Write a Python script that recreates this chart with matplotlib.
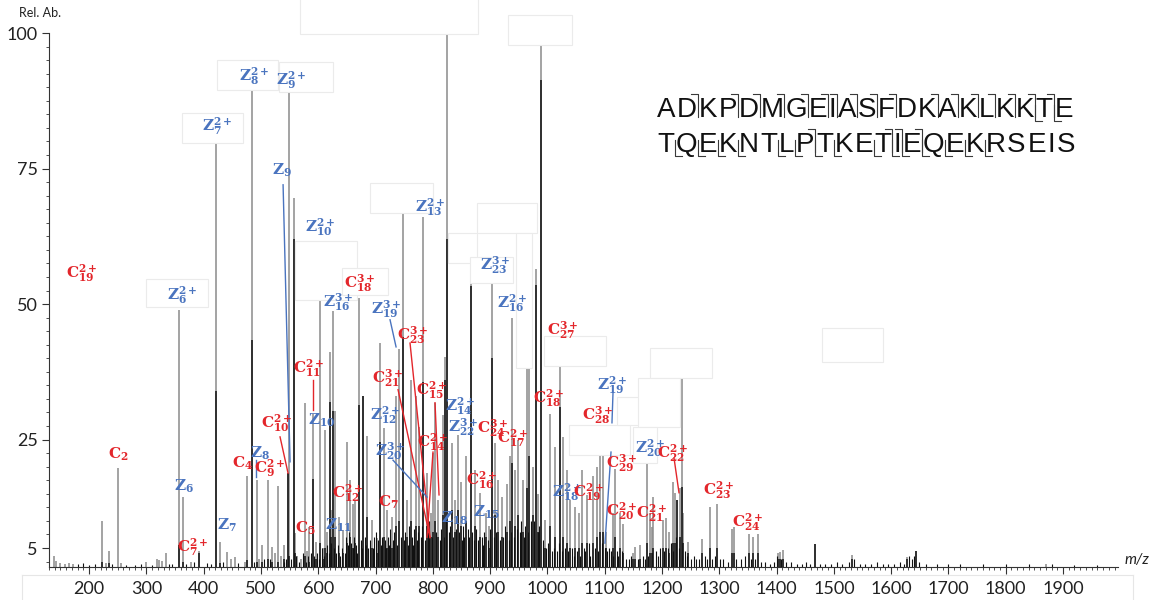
import matplotlib
matplotlib.use("Agg")
import matplotlib.pyplot as plt
from matplotlib.patches import Rectangle
from matplotlib.lines import Line2D
from matplotlib.ticker import MultipleLocator, FixedLocator
from matplotlib.font_manager import FontProperties

plt.rcParams['mathtext.fontset'] = 'dejavuserif'
plt.rcParams['font.family'] = ['Lato', 'DejaVu Sans']

# ---------------- data: main peaks (m/z, total intensity, dark-core intensity) ----------------
peak_mz = [138, 143, 150, 158, 165, 172, 223, 229, 234, 251, 256, 300, 318, 322, 327, 334,
           356.5, 364.6, 377, 391, 421, 428.6, 441, 447, 455, 472, 475, 484, 492.6, 497, 502,
           511.8, 520, 525, 529, 535, 541, 546.7, 549, 557.5, 559.5, 563, 570, 577, 580, 584,
           590.8, 596, 603.5, 608, 612.5, 616, 620.3, 623, 626.4, 629.5, 636, 643.8, 651, 655.5,
           661.3, 664, 671.5, 678.7, 684.5, 693, 702, 707.5, 714.5, 719.5, 728, 735.5, 741.4,
           747.4, 754.4, 761.3, 770, 776.5, 783.4, 789.3, 796.2, 801, 803.8, 809.6, 817.2, 821.3,
           825.3, 833, 838.7, 844.5, 848.6, 857.9, 866, 873.6, 882.4, 892.8, 898, 903.9, 908.5,
           914.3, 920, 930, 934.7, 938.8, 944, 949.2, 956.8, 963.8, 968.5, 974, 980.1, 984, 989.6,
           995.8, 1004.5, 1013.2, 1022, 1027.8, 1033.6, 1039.4, 1048.1, 1055, 1059.8, 1068.5,
           1080.1, 1086, 1092, 1097, 1103, 1113.9, 1118, 1126.7, 1132.5, 1150, 1153, 1161.6, 1173,
           1179, 1182, 1185, 1202, 1207, 1213, 1220, 1222.7, 1226.7, 1231.4, 1235, 1237.5, 1246,
           1269, 1283.8, 1296.6, 1321.6, 1326, 1352, 1359.4, 1368, 1403, 1406, 1412, 1466.5, 1531,
           1628, 1644, 1870]
peak_total = [3.5, 2.6, 2.3, 2.1, 2.3, 2.1, 10.0, 2.2, 4.5, 19.8, 2.2, 2.4, 3.0, 2.8, 2.6, 4.0,
              48.9, 14.5, 2.5, 4.5, 79.7, 6.2, 4.3, 3.0, 3.4, 2.4, 18.3, 89.5, 17.5, 3.0, 5.5,
              17.5, 5.2, 4.0, 16.4, 3.5, 5.5, 18.8, 89.0, 69.5, 7.7, 3.5, 3.0, 31.8, 4.5, 8.9,
              29.8, 6.2, 50.8, 5.0, 26.8, 8.0, 41.1, 12.0, 48.7, 30.2, 10.8, 8.3, 24.6, 17.5,
              13.2, 13.6, 51.2, 33.1, 25.6, 10.2, 6.8, 42.9, 27.1, 12.0, 10.8, 33.1, 41.7,
              66.8, 13.9, 36.0, 33.0, 27.4, 66.1, 18.8, 11.4, 22.5, 31.7, 13.8, 29.5, 40.3,
              100.0, 24.3, 13.9, 25.9, 17.2, 21.9, 57.6, 19.4, 15.1, 11.4, 9.0, 55.8, 24.3,
              17.5, 14.5, 16.9, 21.9, 47.4, 19.4, 24.9, 17.5, 38.2, 54.1, 20.0, 56.5, 15.0, 97.8,
              10.2, 29.8, 23.7, 38.6, 25.5, 19.4, 13.9, 12.6, 11.4, 19.4, 14.8,
              18.2, 20.0, 22.5, 27.4, 8.0, 11.4, 19.5, 11.4, 9.5, 4.0, 5.2, 5.6, 20.6,
              11.4, 8.9, 14.5, 10.2, 10.5, 8.0, 17.1, 15.1, 13.9, 16.0, 36.2, 11.4, 6.2,
              6.6, 12.6, 13.1, 8.5, 8.9, 7.6, 7.0, 7.6, 4.0, 4.3, 4.6, 5.7, 3.7,
              3.3, 4.5, 2.0]
peak_core = [0, 0, 0, 0, 0, 0, 2.5, 0, 2.2, 0, 0, 0, 0, 0, 0, 0,
             5.6, 2.5, 0, 4.0, 34, 2.2, 0, 0, 0, 0, 2.8, 43.4, 2.5, 0, 2.5,
             3.0, 2.5, 0, 2.5, 0, 3.0, 18.8, 3.5, 62, 4, 0, 0, 3.5, 0, 2.5,
             17.8, 3, 6, 3, 5, 4, 32, 7, 30.3, 7, 4, 4, 6, 7,
             5, 6, 31.4, 33.1, 10.8, 5, 4, 24.6, 7, 5, 5, 9, 10,
             44, 7, 10, 9, 9, 35.7, 9, 7, 8, 10, 7, 11, 36,
             62, 12, 8, 12, 9, 10, 53.3, 9, 7, 7, 5, 40, 11,
             8, 7, 8, 10, 20.6, 9, 11, 8, 16, 22, 11, 53.5, 8, 91.4,
             5, 9, 7, 31.1, 7, 6, 5, 5, 5, 6, 6,
             6, 7, 8, 8, 5, 5, 7, 5, 4, 3, 3, 3, 6,
             4, 4, 5, 5, 5, 4, 6, 6, 13.9, 7, 16.3, 6, 4,
             4, 5, 5, 4, 4, 4, 4, 4, 3, 3, 3, 5.7, 3,
             3, 4.5, 0]

# ---------------- data: small background peaks (m/z, intensity) ----------------
noise_mz = [180, 190, 200, 210, 240, 265, 280, 290, 310, 340, 345, 370, 383, 405, 412, 433, 460,
            488, 506, 515, 540, 544, 552, 561, 566, 573, 578, 582, 587, 593, 598, 601, 607, 610,
            615, 618, 623, 628, 631, 634, 638, 641, 646, 648, 652, 654, 658, 660, 663, 666, 668,
            674, 676, 681, 683, 687, 690, 695, 697, 700, 704, 709, 711, 716, 718, 722, 724, 726,
            730, 732, 738, 744, 749, 751, 756, 758, 763, 765, 767, 772, 774, 779, 781, 786, 791,
            793, 799, 806, 813, 815, 819, 823, 828, 830, 836, 841, 846, 851, 853, 855, 861, 863,
            869, 871, 876, 879, 885, 888, 890, 896, 899, 906, 911, 917, 923, 926, 933, 937, 941,
            947, 952, 954, 959, 961, 966, 971, 977, 983, 986, 992, 998, 1001, 1008, 1011,
            1017, 1020, 1025, 1031, 1036, 1043, 1046, 1052, 1057, 1063, 1066, 1072, 1075, 1083,
            1089, 1095, 1100, 1104, 1108, 1111, 1115, 1122, 1124, 1130, 1137, 1142, 1146, 1158,
            1166, 1170, 1176, 1189, 1193, 1197, 1204, 1211, 1216, 1219, 1225, 1230, 1240, 1243,
            1250, 1256, 1260, 1265, 1275, 1279, 1288, 1292, 1302, 1307, 1315, 1330, 1338, 1345,
            1355, 1363, 1372, 1380, 1388, 1395, 1400, 1408, 1416, 1425, 1435, 1445, 1452, 1458,
            1475, 1485, 1495, 1505, 1515, 1527, 1535, 1545, 1555, 1565, 1575, 1585, 1595, 1605,
            1615, 1622, 1632, 1636, 1640, 1648, 1660, 1680, 1700, 1720, 1760, 1800, 1840, 1880,
            1920, 1960]
noise_h = [2.0, 2.2, 1.8, 2.0, 2.0, 1.8, 1.8, 2.0, 1.8, 2.0, 2.0, 2.0, 2.5, 2.2, 2.0, 2.5, 2.2,
           2.5, 3.0, 3.0, 2.5, 3.0, 3.0, 3.5, 2.5, 4.0, 2.5, 3.5, 4.0, 3.5, 4.0, 3.0, 5.0, 3.5,
           5.5, 4.0, 6.0, 5.0, 4.0, 5.5, 3.5, 5.0, 4.0, 7.0, 5.5, 8.0, 6.0, 5.0, 7.0, 5.5, 4.0,
           6.5, 5.0, 7.0, 5.5, 5.0, 6.5, 5.0, 7.0, 8.0, 6.5, 5.5, 7.0, 6.5, 5.0, 7.0, 5.5, 8.5,
           6.5, 8.0, 5.5, 7.0, 6.5, 8.0, 5.5, 9.0, 7.0, 5.5, 8.5, 6.5, 8.0, 7.0, 9.0, 6.5, 8.0,
           10.0, 7.0, 8.0, 6.5, 8.5, 7.0, 10.0, 8.0, 9.0, 7.0, 8.5, 8.0, 6.5, 9.0, 7.0, 8.5, 7.0,
           8.0, 6.5, 8.5, 6.5, 7.0, 5.5, 8.0, 6.5, 8.5, 7.0, 8.0, 6.5, 7.0, 9.0, 6.5, 8.0, 7.0,
           8.5, 8.0, 10.0, 7.0, 9.0, 8.0, 10.0, 10.0, 8.0, 9.0, 6.5, 5.0, 6.0, 4.5, 5.0,
           4.5, 6.0, 4.5, 5.0, 4.5, 5.0, 3.5, 4.5, 3.5, 5.0, 4.5, 6.0, 3.5, 5.0,
           4.5, 6.0, 5.0, 4.5, 5.0, 4.5, 3.5, 4.5, 3.5, 4.5, 3.0, 3.0, 3.5, 3.0,
           3.5, 3.0, 3.5, 4.5, 3.5, 5.0, 4.5, 5.0, 6.0, 4.5, 7.0, 5.0, 4.5, 3.5,
           3.0, 3.5, 3.0, 3.0, 3.5, 3.0, 3.0, 3.5, 3.0, 3.0, 2.5, 3.0, 3.0, 3.5,
           3.0, 3.0, 2.5, 2.5, 2.0, 2.5, 3.5, 3.0, 2.5, 2.5, 2.0, 2.0, 2.5, 2.0,
           2.0, 2.0, 2.0, 2.5, 2.0, 2.5, 3.0, 2.0, 2.0, 2.0, 2.5, 2.0, 2.0, 2.0,
           2.5, 2.0, 3.5, 3.0, 3.5, 2.5, 2.0, 2.0, 2.0, 2.0, 2.0, 2.0, 2.0, 2.0,
           1.8, 1.8]

# ---------------- fragment annotations: ion, index, charge, label m/z, label height ----------------
ion_type = ['C', 'Z', 'C', 'Z', 'C', 'Z', 'Z', 'Z', 'Z', 'Z', 'Z', 'C', 'Z', 'Z', 'C', 'C', 'C',
            'C', 'C', 'Z', 'Z', 'Z', 'Z', 'C', 'Z', 'C', 'C', 'C', 'Z', 'C', 'C', 'C', 'C', 'Z',
            'Z', 'Z', 'C', 'Z', 'Z', 'Z', 'C', 'C', 'Z', 'C', 'C', 'Z', 'C', 'C', 'Z', 'C', 'C',
            'C', 'C']
ion_index = ['19', '6', '2', '6', '7', '7', '7', '8', '9', '9', '10', '18', '16', '19', '23', '11',
             '21', '15', '10', '10', '12', '14', '22', '14', '20', '24', '17', '9', '8', '4', '12',
             '7', '5', '11', '18', '15', '16', '23', '13', '16', '27', '18', '19', '28', '29', '18',
             '19', '20', '20', '22', '21', '23', '24']
ion_charge = ['2+', '2+', '', '', '2+', '', '2+', '2+', '2+', '', '2+', '3+', '3+', '3+', '3+', '2+',
              '3+', '2+', '2+', '', '2+', '2+', '3+', '2+', '3+', '3+', '2+', '2+', '', '', '2+',
              '', '', '', '', '', '2+', '3+', '2+', '2+', '3+', '2+', '2+', '3+', '3+', '2+',
              '2+', '2+', '2+', '2+', '2+', '2+', '2+']
label_mz = [187.8, 362.3, 250.6, 365.8, 381.5, 440.8, 423.4, 488.0, 552.5, 536.8, 603.1, 673.0,
            634.6, 718.3, 765.5, 584.0, 721.8, 798.6, 528.1, 606.6, 716.6, 847.5, 852.7, 800.3,
            725.3, 905.0, 940.0, 515.9, 498.4, 468.8, 652.0, 721.8, 577.0, 634.6, 838.8, 894.6,
            885.9, 908.6, 795.1, 938.2, 1027.2, 1002.8, 1112.7, 1088.3, 1130.2, 1034.2, 1072.6,
            1130.2, 1179.0, 1219.2, 1182.6, 1299.5, 1350.1]
label_int = [55.7, 51.7, 22.3, 16.4, 5.2, 9.2, 82.9, 92.1, 91.4, 74.7, 64.2, 53.9,
             50.4, 49.1, 44.3, 38.2, 36.4, 34.2, 28.1, 28.6, 29.5, 31.2, 27.3, 24.6,
             22.9, 27.1, 25.3, 19.8, 22.5, 20.7, 15.2, 13.5, 8.7, 9.2, 10.4, 11.5,
             17.6, 57.2, 67.9, 50.2, 45.2, 32.7, 35.1, 29.5, 20.7, 15.3, 15.3,
             11.8, 23.5, 22.5, 11.5, 15.7, 9.8]

# leader lines (kind, m/z start, int start, m/z end, int end)
leaders = [('Z', 538.6, 72.0, 550.8, 20.9), ('C', 533.3, 25.5, 547.3, 18.8),
           ('C', 590.9, 36.0, 590.9, 30.5), ('Z', 491.4, 21.2, 491.4, 18.1),
           ('Z', 725.3, 47.1, 735.8, 42.1), ('C', 760.2, 42.8, 795.1, 7.0),
           ('C', 739.3, 34.2, 795.1, 6.9), ('C', 803.8, 31.8, 810.8, 14.8),
           ('C', 800.3, 22.7, 789.9, 7.0), ('Z', 730.5, 21.2, 789.9, 14.4),
           ('Z', 1114.5, 33.6, 1112.7, 28.1), ('Z', 1111.0, 22.7, 1100.5, 5.9),
           ('C', 1221.0, 21.6, 1229.7, 15.2)]

# label background boxes (m/z0, m/z1, int0, int1)
boxes = [(362.3, 468.8, 79.7, 85.3), (423.4, 529.8, 89.5, 95.0), (531.6, 625.8, 89.1, 94.7),
         (299.5, 407.7, 49.5, 54.6), (559.5, 667.7, 50.8, 61.6), (641.5, 721.8, 51.7, 56.7),
         (690.4, 800.3, 66.8, 72.3), (568.2, 878.9, 99.8, 107.0), (931.2, 1043.0, 97.8, 103.3),
         (877.1, 981.9, 63.1, 68.7), (826.5, 877.1, 57.6, 63.1), (994.1, 1102.3, 38.6, 44.1),
         (945.2, 973.1, 38.2, 63.1), (1037.7, 1144.2, 22.2, 27.7), (1121.5, 1161.7, 27.7, 32.9),
         (1179.1, 1287.3, 36.4, 41.9), (1158.2, 1231.4, 27.3, 36.4), (1149.4, 1191.3, 20.7, 27.3),
         (1479.2, 1585.7, 39.3, 45.6), (864.9, 940.0, 53.9, 58.7)]

seq_line1 = "ADKPDMGEIASFDKAKLKKTE"
seq_line2 = "TQEKNTLPTKETIEQEKRSEIS"
c_marks1 = [1, 3, 4, 5, 6, 7, 8, 9, 10, 11, 13, 14, 15, 16, 17, 18, 19]
z_marks1 = [19, 20]
c_marks2 = [7, 11, 12, 13]
z_marks2 = [1, 2, 3, 4, 6, 7, 8, 9, 11, 12, 13, 14, 15, 16, 17]

x_ticks = list(range(200, 2000, 100))
y_ticks = [5, 25, 50, 75, 100]

RED = '#e3262b'
BLUE = '#4a74bf'
W, H = 1160, 600

fig = plt.figure(figsize=(W / 100, H / 100), dpi=100)
ax = fig.add_axes([49 / W, 1 - 567 / H, (1118 - 49) / W, (567 - 33) / H])
ax.set_xlim(130, 1996)
ax.set_ylim(1.5, 100)
base = 1.5

ax.vlines(peak_mz, base, peak_total, colors='#8a8a8a', lw=1.1, zorder=2)
core_mz = [m for m, c in zip(peak_mz, peak_core) if c > 0]
core_h = [c for c in peak_core if c > 0]
ax.vlines(core_mz, base, core_h, colors='#111111', lw=1.1, zorder=3)
ax.vlines(noise_mz, base, noise_h, colors='#111111', lw=0.8, zorder=3)

for (m0, m1, i0, i1) in boxes:
    ax.add_patch(Rectangle((m0, i0), m1 - m0, i1 - i0, facecolor='white',
                           edgecolor='#ebebeb', lw=0.8, zorder=4, clip_on=False))

for kind, m0, i0, m1, i1 in leaders:
    ax.plot([m0, m1], [i0, i1], color=RED if kind == 'C' else BLUE, lw=1.0,
            zorder=5, clip_on=False)

for t, idx, ch, m, v in zip(ion_type, ion_index, ion_charge, label_mz, label_int):
    if ch:
        s = r'$\mathbf{%s}_{\mathbf{%s}}^{\mathbf{%s}}$' % (t, idx, ch)
    else:
        s = r'$\mathbf{%s}_{\mathbf{%s}}$' % (t, idx)
    ax.text(m, v, s, color=RED if t == 'C' else BLUE, fontsize=11, ha='center',
            va='center', zorder=6, clip_on=False)

for sp in ['top', 'right']:
    ax.spines[sp].set_visible(False)
for sp in ['left', 'bottom']:
    ax.spines[sp].set_color('#333333')
    ax.spines[sp].set_linewidth(0.8)

ax.xaxis.set_major_locator(FixedLocator(x_ticks))
ax.xaxis.set_minor_locator(MultipleLocator(10))
ax.yaxis.set_major_locator(FixedLocator(y_ticks))
ax.yaxis.set_minor_locator(MultipleLocator(2.5))
ax.tick_params(axis='x', which='major', length=5, width=0.8, color='#333333',
               labelsize=13, pad=5, labelcolor='#222222')
ax.tick_params(axis='x', which='minor', length=2.5, width=0.6, color='#333333')
ax.tick_params(axis='y', which='major', length=5, width=0.8, color='#333333',
               labelsize=13, pad=3, labelcolor='#222222')
ax.tick_params(axis='y', which='minor', length=2.5, width=0.6, color='#333333')
ax.set_xticklabels([str(t) for t in x_ticks])
ax.set_yticklabels([str(t) for t in y_ticks])

fig.text(40 / W, 1 - 13 / H, 'Rel. Ab.', fontsize=9, ha='center', va='center', color='#222222')
fig.text(1137 / W, 1 - 560 / H, 'm/z', fontsize=11, style='italic', ha='center',
         va='center', color='#222222')

# faint outer frame pieces at the bottom
for xs, ys in [([22, 22], [575, 600]), ([22, 1133], [575, 575]), ([1133, 1133], [575, 600])]:
    fig.add_artist(Line2D([x / W for x in xs], [1 - y / H for y in ys], color='#e6e6e6',
                          lw=0.8, transform=fig.transFigure))

# ---------------- sequence with cleavage marks ----------------
renderer = fig.canvas.get_renderer()
fp = FontProperties(family='Liberation Sans', size=20)


def mark(xs, ys):
    fig.add_artist(Line2D([x / W for x in xs], [1 - y / H for y in ys], color='#3a3a3a',
                          lw=0.8, transform=fig.transFigure))


def draw_seq(seq, x_left, x_right, baseline, cmarks, zmarks):
    widths = [renderer.get_text_width_height_descent(c, fp, ismath=False)[0] for c in seq]
    gap = (x_right - x_left - sum(widths)) / (len(seq) - 1)
    edges = []
    x = x_left
    for c, w in zip(seq, widths):
        fig.text(x / W, 1 - baseline / H, c, fontproperties=fp, ha='left', va='baseline',
                 color='#111111')
        edges.append((x, x + w))
        x += w + gap
    for i in cmarks:
        xm = edges[i][1] + gap / 2
        mark([xm, xm, xm - 7], [baseline, baseline - 23, baseline - 23])
    for j in zmarks:
        xm = edges[j][0] - gap / 2
        mark([xm, xm, xm + 7], [baseline - 12, baseline + 4, baseline + 4])


draw_seq(seq_line1, 657, 1073, 117, c_marks1, z_marks1)
draw_seq(seq_line2, 657, 1075, 152, c_marks2, z_marks2)

fig.savefig('out.png', dpi=100)
